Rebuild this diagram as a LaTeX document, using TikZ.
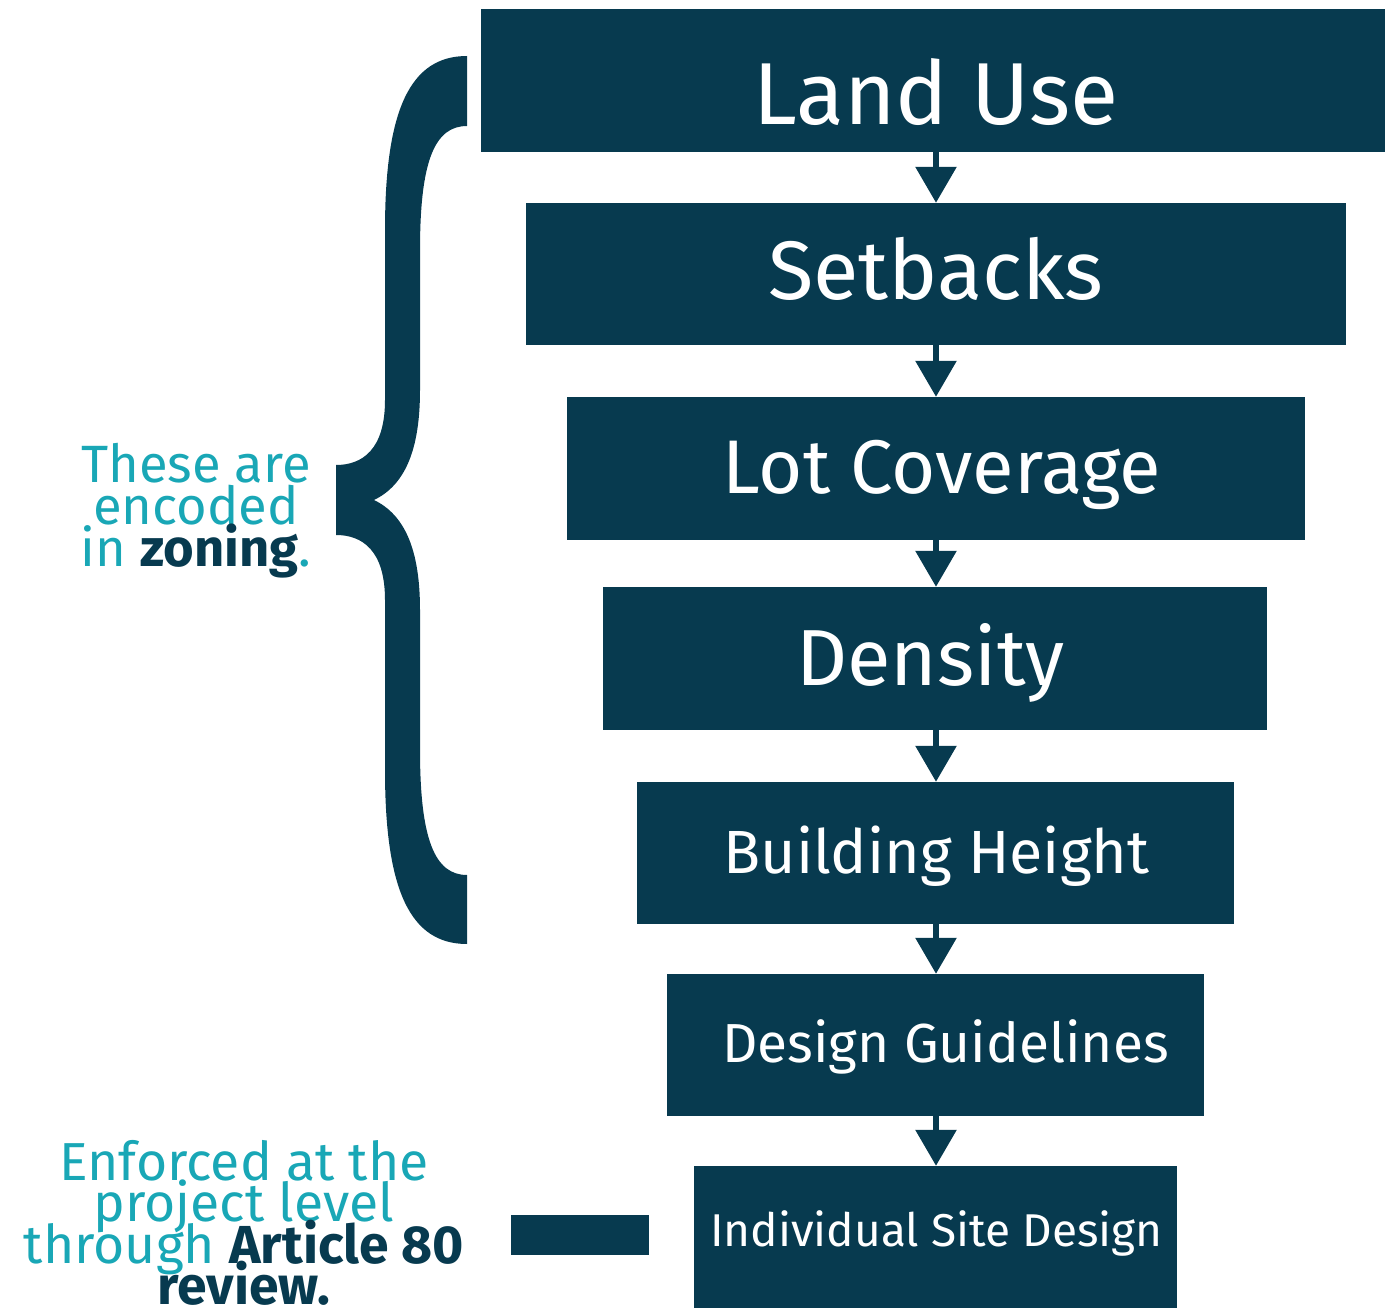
\documentclass[tikz,border=0pt]{standalone}
\usepackage{fontspec}
\setmainfont{Fira Sans}
\usetikzlibrary{arrows.meta,calc}
\definecolor{dark}{HTML}{073A4F}
\definecolor{light}{HTML}{19A7B6}
\begin{document}
\begin{tikzpicture}[x=1pt,y=-1pt,
  box/.style={fill=dark, draw=none, inner sep=0pt},
  lbl/.style={text=white, inner sep=0pt, anchor=base},
  side/.style={text=light, inner sep=0pt, anchor=base, font=\fontsize{52.5}{52.5}\selectfont},
  sideb/.style={text=light, inner sep=0pt, anchor=base, font=\fontsize{53.5}{53.5}\selectfont},
  arr/.style={draw=dark, line width=6pt, -{Triangle[width=40pt,length=36pt]}}]
\useasboundingbox (0,0) rectangle (1385,1308);
\clip (0,0) rectangle (1385,1308);
% boxes
\node[box, minimum width=904pt, minimum height=143pt] (b1) at (933,80.5) {};
\node[box, minimum width=820pt, minimum height=142pt] (b2) at (936,274) {};
\node[box, minimum width=738pt, minimum height=143pt] (b3) at (936,468.5) {};
\node[box, minimum width=664pt, minimum height=143pt] (b4) at (935,658.5) {};
\node[box, minimum width=597pt, minimum height=142pt] (b5) at (935.5,853) {};
\node[box, minimum width=537pt, minimum height=142pt] (b6) at (935.5,1045) {};
\node[box, minimum width=483pt, minimum height=150pt] (b7) at (935.5,1241) {};
% labels
\node[lbl, font=\fontsize{88}{88}\selectfont] (t1) at (936,125) {Land Use};
\node[lbl, font=\fontsize{83}{83}\selectfont] (t2) at (935.5,300) {Setbacks};
\node[lbl, font=\fontsize{76}{76}\selectfont] (t3) at (942,493) {Lot Coverage};
\node[lbl, font=\fontsize{79.5}{79.5}\selectfont] (t4) at (930.5,685) {Density};
\node[lbl, font=\fontsize{61}{61}\selectfont] (t5) at (936.5,873) {Building Height};
\node[lbl, font=\fontsize{55}{55}\selectfont] (t6) at (945.5,1062) {Design Guidelines};
\node[lbl, font=\fontsize{46}{46}\selectfont] (t7) at (936.5,1246) {Individual Site Design};
% arrows
\draw[arr] (t1 |- b1.south) -- (t1 |- b2.north);
\draw[arr] (t1 |- b2.south) -- (t1 |- b3.north);
\draw[arr] (t1 |- b3.south) -- (t1 |- b4.north);
\draw[arr] (t1 |- b4.south) -- (t1 |- b5.north);
\draw[arr] (t1 |- b5.south) -- (t1 |- b6.north);
\draw[arr] (t1 |- b6.south) -- (t1 |- b7.north);
% brace
\fill[dark] (467,56) .. controls (410,56) and (385,110) .. (385,230)
  -- (385,400) .. controls (385,450) and (362,465) .. (336,465)
  -- (336,535) .. controls (362,535) and (385,550) .. (385,600)
  -- (385,770) .. controls (385,890) and (410,944) .. (467,944)
  -- (467,875) .. controls (435,875) and (420,840) .. (420,750)
  -- (420,610) .. controls (420,550) and (405,515) .. (374,500)
  .. controls (405,485) and (420,450) .. (420,390)
  -- (420,250) .. controls (420,160) and (435,126) .. (467,126) -- cycle;
% side texts
\node[side] (s1) at (196,482) {These are};
\node[side] (s2) at (196,524) {encoded};
\node[side] (s3) at (196,566) {in \textcolor{dark}{\bfseries zoning}.};
\node[sideb] (e1) at (244,1180) {Enforced at the};
\node[sideb] (e2) at (244,1221) {project level};
\node[sideb] (e3) at (244,1263) {through \textcolor{dark}{\bfseries Article 80}};
\node[sideb] (e4) at (244,1304) {\textcolor{dark}{\bfseries review.}};
\node[box, minimum width=138pt, minimum height=40pt] (bar) at (580,1235) {};
\end{tikzpicture}
\end{document}
